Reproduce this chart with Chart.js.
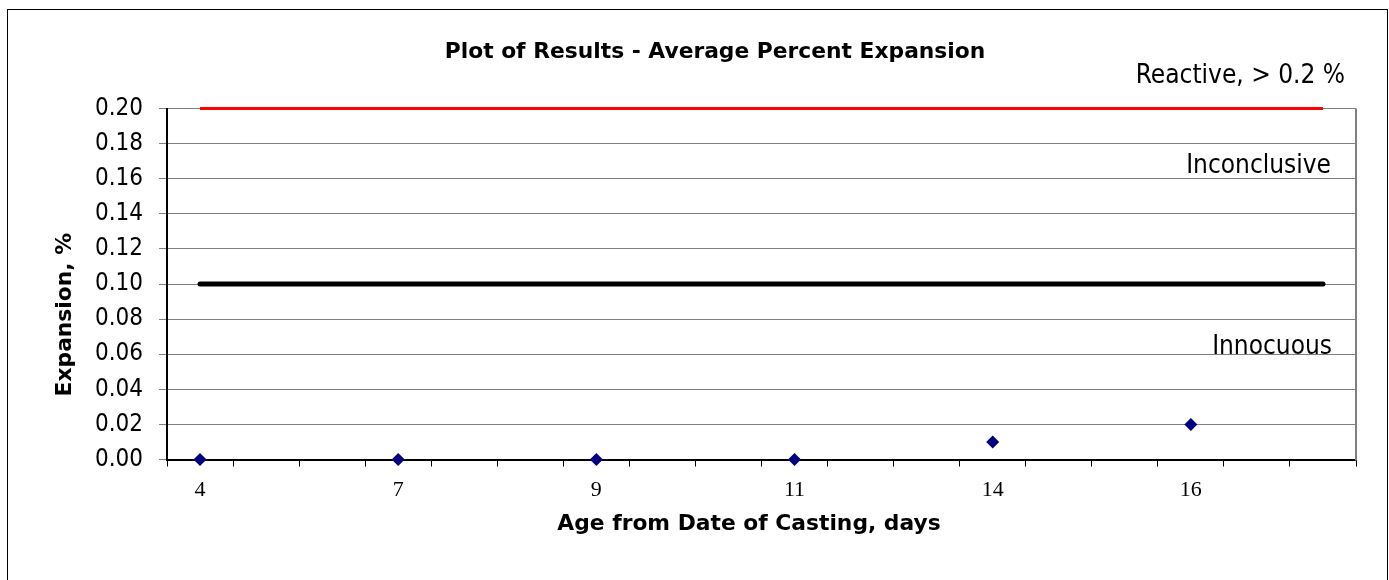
<!DOCTYPE html>
<html>
<head>
<meta charset="utf-8">
<script src="https://cdn.jsdelivr.net/npm/chart.js@4/dist/chart.umd.min.js"></script>
<style>
  html, body { margin: 0; padding: 0; background: #fff; overflow: hidden; }
  #frame { position: absolute; left: 7px; top: 9px; width: 1381px; height: 600px; border: 1.5px solid #000; box-sizing: border-box; }
  #wrap { position: absolute; left: 0; top: 0; width: 1389px; height: 580px; }
</style>
</head>
<body>
<div id="frame"></div>
<div id="wrap"><canvas id="c" width="1389" height="580"></canvas></div>
<script>
// ---- data ----
const categories = ['4','','','7','','','9','','','11','','','14','','','16','',''];
const expansion  = [0.00,null,null,0.00,null,null,0.00,null,null,0.00,null,null,0.01,null,null,0.02,null,null];
const reactiveLimit = [0.2,0.2,0.2,0.2,0.2,0.2,0.2,0.2,0.2,0.2,0.2,0.2,0.2,0.2,0.2,0.2,0.2,0.2];
const innocuousLimit = [0.1,0.1,0.1,0.1,0.1,0.1,0.1,0.1,0.1,0.1,0.1,0.1,0.1,0.1,0.1,0.1,0.1,0.1];
const yTicks = [0.00,0.02,0.04,0.06,0.08,0.10,0.12,0.14,0.16,0.18,0.20];

const chartTitle = 'Plot of Results - Average Percent Expansion';
const xTitle = 'Age from Date of Casting, days';
const yTitle = 'Expansion, %';
const zoneLabels = ['Reactive, > 0.2 %', 'Inconclusive', 'Innocuous'];

const COND = '"DejaVu Sans Condensed", "DejaVu Sans", sans-serif';
const SANS = '"DejaVu Sans", sans-serif';
const SERIF = '"Liberation Serif", "DejaVu Serif", serif';

const textPlugin = {
  id: 'texts',
  afterDraw(chart) {
    const ctx = chart.ctx;
    const a = chart.chartArea;
    ctx.save();
    // right plot border (gray)
    ctx.strokeStyle = '#808080';
    ctx.lineWidth = 2;
    ctx.beginPath();
    ctx.moveTo(a.right, a.top);
    ctx.lineTo(a.right, a.bottom + 1);
    ctx.stroke();

    ctx.fillStyle = '#000';
    ctx.textBaseline = 'alphabetic';
    // title
    ctx.font = 'bold 21.8px ' + SANS;
    ctx.textAlign = 'center';
    ctx.fillText(chartTitle, 715, 58);
    // x title
    ctx.fillText(xTitle, 749, 530);
    // y title
    ctx.save();
    ctx.translate(71, 233);
    ctx.rotate(-Math.PI / 2);
    ctx.textAlign = 'right';
    ctx.fillText(yTitle, 0, 0);
    ctx.restore();
    // zone labels
    ctx.font = '26px ' + COND;
    ctx.textAlign = 'right';
    ctx.fillText(zoneLabels[0], 1345, 83);
    ctx.fillText(zoneLabels[1], 1331, 172.5);
    ctx.fillText(zoneLabels[2], 1332, 354);
    ctx.restore();
  }
};

new Chart(document.getElementById('c'), {
  type: 'line',
  data: {
    labels: categories,
    datasets: [
      {
        label: 'Expansion',
        data: expansion,
        showLine: false,
        pointStyle: 'rectRot',
        pointRadius: 6.5,
        pointBackgroundColor: '#000080',
        pointBorderColor: '#000080',
        pointBorderWidth: 0,
        clip: false
      },
      {
        label: 'Innocuous limit',
        data: innocuousLimit,
        borderColor: '#000',
        borderWidth: 5,
        borderCapStyle: 'round',
        pointRadius: 0,
        clip: false
      },
      {
        label: 'Reactive limit',
        data: reactiveLimit,
        borderColor: '#ff0000',
        borderWidth: 3,
        pointRadius: 0,
        clip: false
      }
    ]
  },
  options: {
    responsive: false,
    animation: false,
    events: [],
    layout: { padding: { left: 0, right: 33, top: 108.5, bottom: 0 } },
    plugins: { legend: { display: false }, tooltip: { enabled: false }, title: { display: false } },
    scales: {
      x: {
        type: 'category',
        offset: true,
        grid: { display: true, drawOnChartArea: false, drawTicks: true, tickLength: 7, offset: true, color: '#000', lineWidth: 1 },
        border: { display: true, color: '#000', width: 2 },
        ticks: { autoSkip: false, maxRotation: 0, minRotation: 0, padding: 11, color: '#000', font: { family: SERIF, size: 22 } },
        afterFit(s) { s.height = 120.5; }
      },
      y: {
        min: 0, max: 0.2,
        afterBuildTicks(s) { s.ticks = yTicks.map(v => ({ value: v })); },
        grid: { color: '#808080', lineWidth: 1, tickLength: 8, drawTicks: true },
        border: { display: true, color: '#000', width: 2 },
        ticks: { padding: 16, color: '#000', font: { family: COND, size: 24 }, callback: v => v.toFixed(2) },
        afterFit(s) { s.width = 167; }
      }
    }
  },
  plugins: [textPlugin]
});
</script>
</body>
</html>
